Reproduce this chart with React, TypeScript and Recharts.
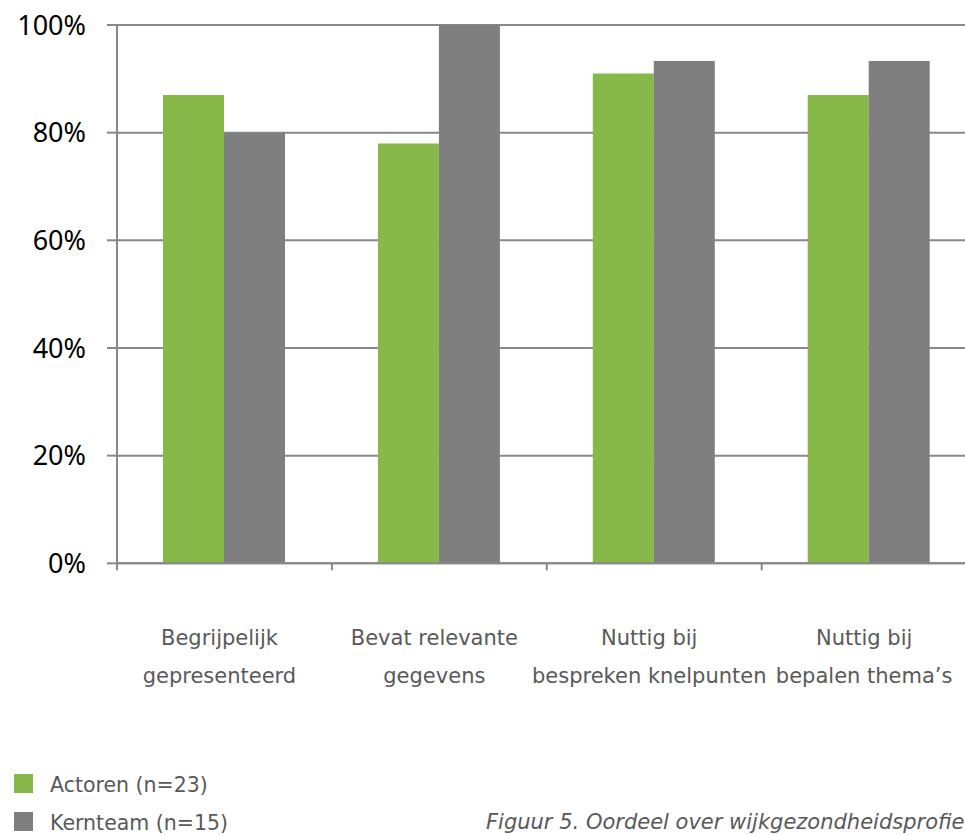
import React from 'react';
import { BarChart, Bar, XAxis, YAxis, CartesianGrid } from 'recharts';

// Categories (two-line labels) and the two series, in percent
const categories = [
  'Begrijpelijk\ngepresenteerd',
  'Bevat relevante\ngegevens',
  'Nuttig bij\nbespreken knelpunten',
  'Nuttig bij\nbepalen thema\u2019s',
];
const actoren = [87, 78, 91, 87];
const kernteam = [80, 100, 93.3, 93.3];
const yTicks = [0, 20, 40, 60, 80, 100];

const seriesNames = ['Actoren (n=23)', 'Kernteam (n=15)'];
const seriesColors = ['#86B84A', '#7F7F7F'];
const caption = 'Figuur 5. Oordeel over wijkgezondheidsprofiel';

const data = categories.map((name, i) => ({
  name,
  actoren: actoren[i],
  kernteam: kernteam[i],
}));

const AXIS_GRAY = '#898989';
const LABEL_GRAY = '#595959';
const LABEL_FONT = '"DejaVu Sans", Verdana, sans-serif';

// x-axis tick: two lines of text plus the small tick marks between categories
const CategoryTick = (props: any) => {
  const { x, y, payload, index } = props;
  const half = payload && payload.offset ? payload.offset : 107.4;
  const lines = String(payload.value).split('\n');
  return (
    <g>
      <line x1={x - half} x2={x - half} y1={y} y2={y + 7} stroke={AXIS_GRAY} strokeWidth={2} />
      {index === categories.length - 1 && (
        <line x1={x + half} x2={x + half} y1={y} y2={y + 7} stroke={AXIS_GRAY} strokeWidth={2} />
      )}
      {lines.map((line, i) => (
        <text
          key={i}
          x={x - 5}
          y={y + 82 + i * 38}
          textAnchor="middle"
          fontFamily={LABEL_FONT}
          fontSize={21}
          fill={LABEL_GRAY}
        >
          {line}
        </text>
      ))}
    </g>
  );
};

export default function App() {
  return (
    <div
      style={{
        position: 'fixed',
        left: 0,
        top: 0,
        width: 965,
        height: 835,
        overflow: 'hidden',
        background: '#fff',
      }}
    >
      <BarChart
        width={990}
        height={700}
        data={data}
        margin={{ top: 25, right: 13.4, left: 0, bottom: 0 }}
        barCategoryGap={46}
        barGap={0}
      >
        <CartesianGrid vertical={false} stroke={AXIS_GRAY} strokeWidth={2} />
        <XAxis
          dataKey="name"
          interval={0}
          height={136.7}
          tickLine={false}
          tickSize={0}
          tickMargin={0}
          axisLine={{ stroke: AXIS_GRAY, strokeWidth: 2 }}
          tick={<CategoryTick />}
        />
        <YAxis
          type="number"
          domain={[0, 100]}
          ticks={yTicks}
          width={117}
          tickSize={10}
          tickMargin={21}
          tickFormatter={(v: number) => `${v}%`}
          tickLine={{ stroke: AXIS_GRAY, strokeWidth: 2 }}
          axisLine={{ stroke: AXIS_GRAY, strokeWidth: 2 }}
          tick={{ fill: '#000', fontSize: 27, fontFamily: '"Noto Sans", sans-serif' }}
        />
        <Bar dataKey="actoren" name={seriesNames[0]} fill={seriesColors[0]} isAnimationActive={false} />
        <Bar dataKey="kernteam" name={seriesNames[1]} fill={seriesColors[1]} isAnimationActive={false} />
      </BarChart>

      <svg
        width={965}
        height={835}
        style={{ position: 'absolute', left: 0, top: 0, pointerEvents: 'none' }}
      >
        {seriesNames.map((name, i) => (
          <g key={name}>
            <rect x={14} y={774 + i * 38} width={19} height={19} fill={seriesColors[i]} />
            <text
              x={50}
              y={792 + i * 38}
              fontFamily={LABEL_FONT}
              fontSize={20.5}
              fill={LABEL_GRAY}
            >
              {name}
            </text>
          </g>
        ))}
        <text
          x={486}
          y={829}
          fontFamily={LABEL_FONT}
          fontStyle="italic"
          fontSize={21}
          fill={LABEL_GRAY}
        >
          {caption}
        </text>
      </svg>
    </div>
  );
}
